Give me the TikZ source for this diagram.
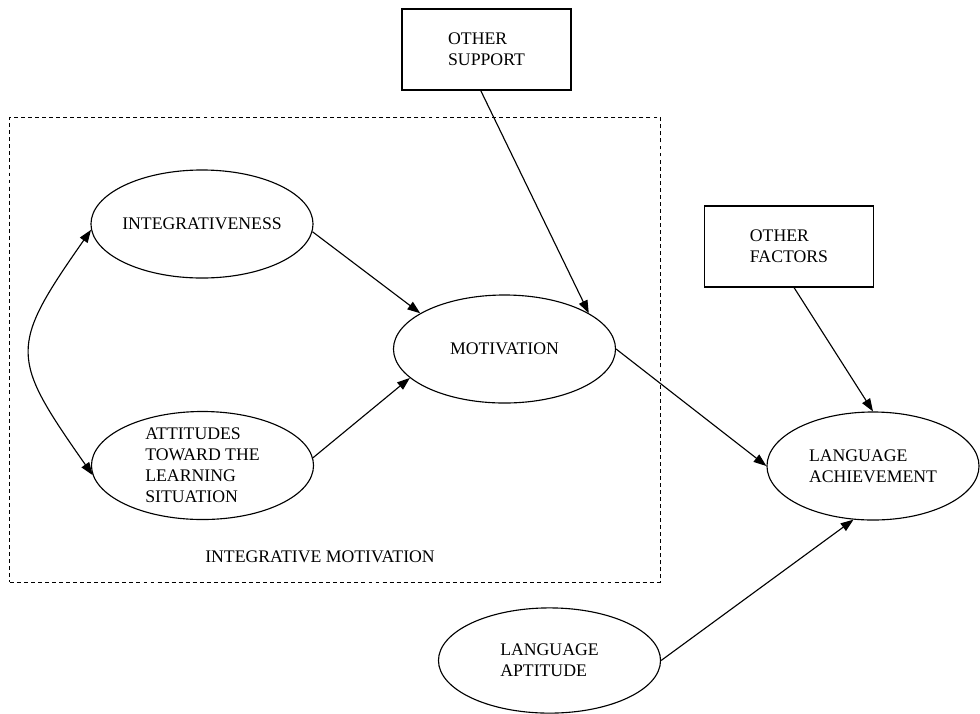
\documentclass[tikz,border=0pt]{standalone}
\usepackage{fontspec}
\setmainfont{Liberation Serif}
\usetikzlibrary{positioning, arrows.meta, shapes.geometric}

\begin{document}
\begin{tikzpicture}[
        x=0.025cm, y=-0.025cm,
        >={Triangle[length=3.2mm, width=2.3mm]},
        line width=0.8pt,
        every node/.style={font=\fontsize{12.6}{15}\selectfont},
        factor/.style={ellipse, draw, inner sep=-1mm, minimum width=5.55cm, minimum height=2.7cm, align=left},
        outerbox/.style={rectangle, draw, minimum width=4.225cm, minimum height=2.025cm, align=left},
        groupbox/.style={draw, dash pattern=on 2.8pt off 2.2pt, line width=0.6pt, minimum width=16.25cm, minimum height=11.625cm},
    ]
    \useasboundingbox (0,0) rectangle (980,713);

        % Draw the dashed box of the integrative motivation
        \node[groupbox] (IM) at (335,349.5) {};
        \node (IM-label) at (320,557) {INTEGRATIVE MOTIVATION};

        % Draw the factors
        \node[factor] (integ) at (202,224) {INTEGRATIVENESS};
        \node[factor] (att) at (202.5,465.5) {ATTITUDES\\TOWARD THE\\LEARNING\\SITUATION};
        \node[factor] (motiv) at (504.5,349) {MOTIVATION};
        \node[factor, minimum width=5.3cm] (LA) at (873,466) {LANGUAGE\\ACHIEVEMENT};
        \node[factor, minimum height=2.63cm] (apt) at (549.5,660.5) {LANGUAGE\\APTITUDE};

        % Draw the outside boxes
        \node[outerbox] (osupp) at (486.5,49.5) {OTHER\\SUPPORT};
        \node[outerbox] (ofact) at (789,246.5) {OTHER\\FACTORS};

        % Connect the factors
        \foreach \source / \dest in {osupp.262/motiv.23, integ.356/motiv.157, att.4/motiv.197,
                                     motiv.east/LA.west, ofact.277/LA.north, apt.east/LA.250}
            \path (\source) edge[->] (\dest);

        % Correlation of the two components
        \draw[<->] (integ.183) to[out=235, in=125, looseness=1.5] (att.185);
    \end{tikzpicture}
\end{document}
